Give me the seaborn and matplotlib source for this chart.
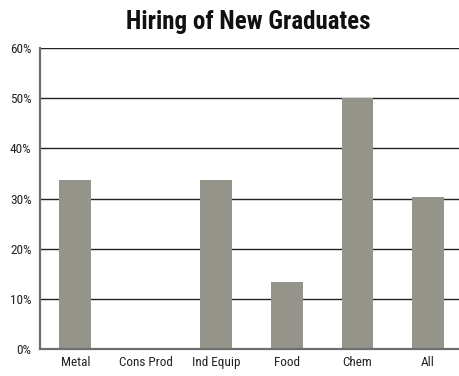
import matplotlib
matplotlib.use("Agg")
import matplotlib.pyplot as plt
from matplotlib import font_manager
import seaborn as sns
import pandas as pd

categories = ["Metal", "Cons Prod", "Ind Equip", "Food", "Chem", "All"]
hiring_pct = [33.7, 0.0, 33.7, 13.3, 50.0, 30.3]
y_ticks = [0, 10, 20, 30, 40, 50, 60]
y_tick_labels = ["0%", "10%", "20%", "30%", "40%", "50%", "60%"]

sns.set_theme(style="white")
fonts = font_manager.fontManager.ttflist
names = {f.name for f in fonts}
narrow = [n for n in ["Liberation Sans Narrow", "Roboto Condensed", "Open Sans Condensed"] if n in names]
plt.rcParams["font.family"] = narrow + ["DejaVu Sans"]
if not narrow:
    plt.rcParams["font.stretch"] = "condensed"

df = pd.DataFrame({"sector": categories, "pct": hiring_pct})

fig = plt.figure(figsize=(4.59, 3.76), dpi=100)
ax = fig.add_axes([40 / 459, 1 - 349 / 376, (459 - 40) / 459, (349 - 48) / 376])

for y in y_ticks[1:]:
    ax.axhline(y, color="#222222", lw=1.0, zorder=0)

sns.barplot(data=df, x="sector", y="pct", color="#94948a", width=0.45,
            saturation=1, linewidth=0, edgecolor="none", ax=ax, zorder=2)

ax.set_xlim(-0.5, 5.44)
ax.set_ylim(0, 60)
ax.set_yticks(y_ticks)
ax.set_yticklabels(y_tick_labels, fontsize=9.5, color="#222222")
ax.set_xticks(range(len(categories)))
ax.set_xticklabels(categories, fontsize=9.5, color="#222222")
ax.tick_params(axis="y", length=0, pad=6)
ax.tick_params(axis="x", length=0, pad=5)
ax.set_xlabel("")
ax.set_ylabel("")

for side in ["top", "right"]:
    ax.spines[side].set_visible(False)
for side in ["left", "bottom"]:
    ax.spines[side].set_color("#6e6e6e")
    ax.spines[side].set_linewidth(1.6)

fig.text(248 / 459, 1 - 22 / 376, "Hiring of New Graduates", ha="center", va="center",
         fontsize=18, fontweight="bold", color="#111111")

fig.savefig("out.png", dpi=100)
